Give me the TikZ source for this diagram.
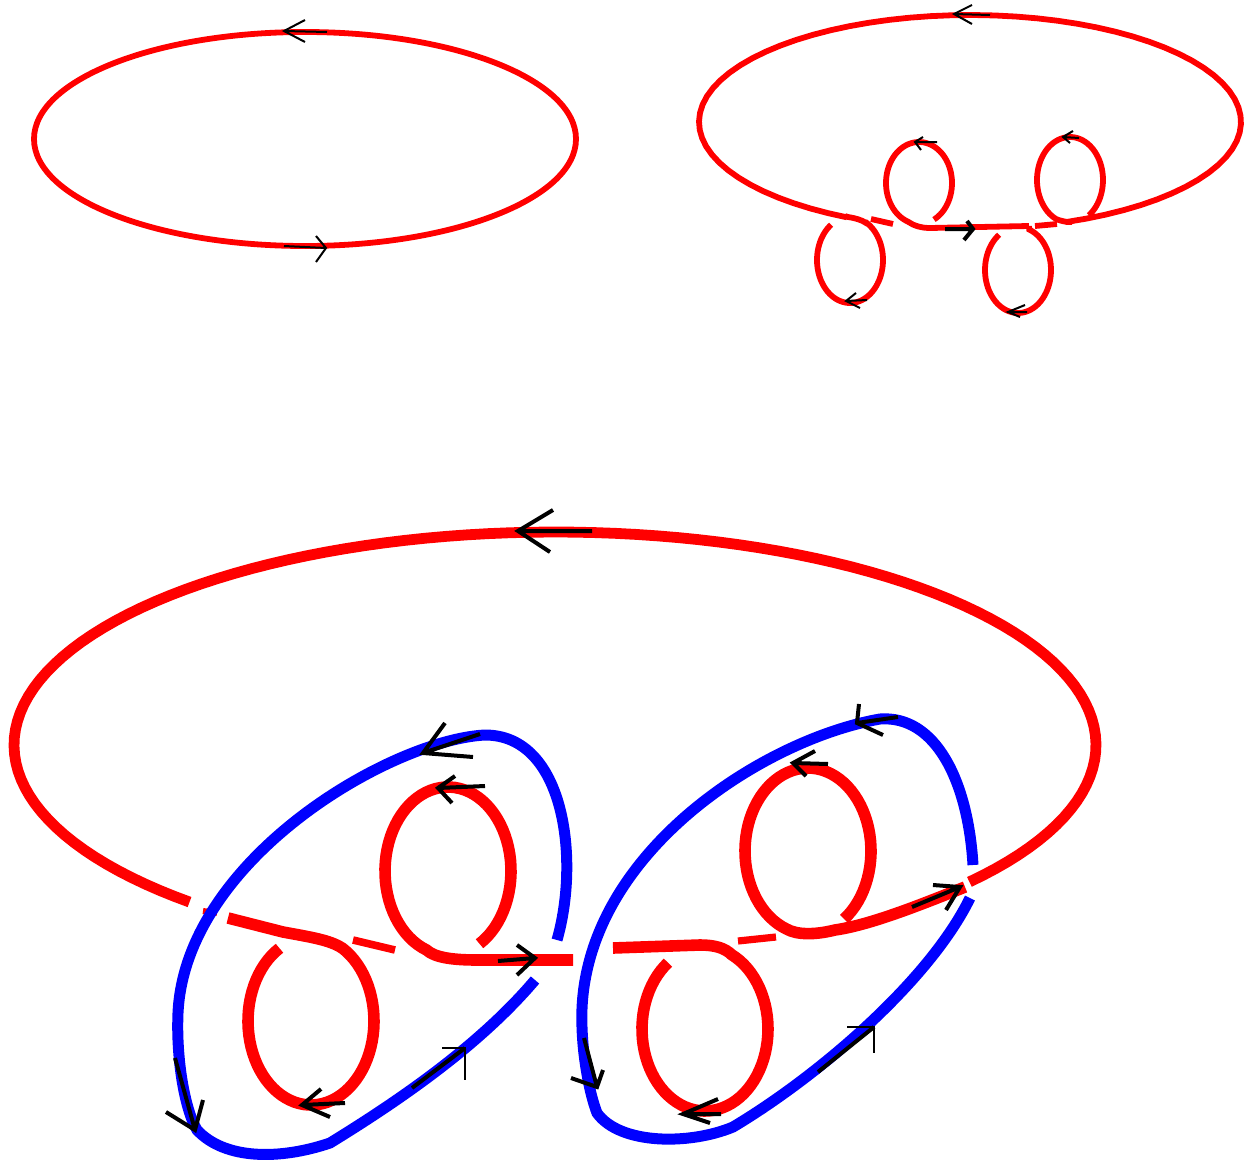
\documentclass[tikz,border=0pt]{standalone}
\definecolor{knotred}{RGB}{255,0,0}
\definecolor{knotblue}{RGB}{0,0,255}
\tikzset{
  redthin/.style={draw=knotred,line width=2.9pt},
  redthick/.style={draw=knotred,line width=5.8pt},
  bluethick/.style={draw=knotblue,line width=5.5pt},
  arrowthin/.style={draw=black,line width=1pt},
  arrowthick/.style={draw=black,line width=2pt}
}
\newcommand{\arw}[5]{\draw[#1] (#2) -- (#3) (#4) -- (#3) -- (#5);}
\newcommand{\elarc}[6]{plot[domain=#5:#6,samples=70] ({#1+#3*cos(\x)},{#2+#4*sin(\x)})}
\newcommand{\elarcto}[6]{-- plot[domain=#5:#6,samples=70] ({#1+#3*cos(\x)},{#2+#4*sin(\x)})}
\begin{document}
\begin{tikzpicture}[x=0.5pt,y=-0.5pt]
\useasboundingbox (0,0) rectangle (1244,1162);
% top left
\draw[redthin] (305,139) ellipse [x radius=271,y radius=107];
\arw{arrowthin}{327,32}{284,31}{305,20}{305,42}
\arw{arrowthin}{284,246}{326,248}{316,236}{316,262}
% top right
\draw[redthin] \elarc{970}{122}{271}{107}{117}{429};
\draw[redthin] (845,216) -- (848,217) .. controls (855,218) and (862,220) .. (866,223) \elarcto{850}{260}{33}{43}{-60}{235};
\draw[redthin] (871,219) -- (893,224);
\draw[redthin] \elarc{919}{183}{33}{41}{63}{-250} .. controls (914,226) and (922,228) .. (930,228) -- (1029,226);
\draw[redthin] (1029,226) \elarcto{1018}{270}{33}{43}{-70}{235};
\draw[redthin] (1035,226) -- (1057,224);
\draw[redthin] \elarc{1070}{180}{33}{43}{55}{-245} .. controls (1058,220) and (1062,221) .. (1067,222) -- (1072,222);
\arw{arrowthin}{990,15}{954,14}{972,5}{972,24}
\arw{arrowthin}{937,142}{915,142}{923,137}{921,150}
\arw{arrowthin}{1079,138}{1063,137}{1073,131}{1070,143}
\arw{arrowthick}{945,229}{973,229}{967,221}{964,240}
\arw{arrowthin}{867,300}{846,301}{856,293}{860,308}
\arw{arrowthin}{1027,312}{1008,312}{1025,305}{1020,317}
% bottom red
\draw[redthick,line width=5.4pt] plot[domain=132.5:400,samples=120] ({555+541*cos(\x)},{745+213*sin(\x)});
\draw[redthick] (228,918) -- (283,932) .. controls (310,937) and (330,940) .. (342,948) \elarcto{311}{1021}{63}{84}{-60}{240};
\draw[redthick,line width=3.8pt] (353,940) -- (395,950);
\draw[redthick] \elarc{448}{871}{63}{84}{60}{-250} .. controls (435,958) and (455,960) .. (477,960) -- (573,960);
\draw[redthick] (613,948) -- (700,945) .. controls (715,945) and (725,948) .. (732,955) \elarcto{705}{1029}{63}{82}{-65}{234};
\draw[redthick,line width=3.6pt] (738,941) -- (776,937);
\draw[redthick] \elarc{808}{851}{63}{83}{55}{-250} .. controls (797,935) and (815,935) .. (835,930) .. controls (870,925) and (920,905) .. (965,887);
\draw[redthick,line width=3pt] (203,911) -- (217,913);
% blue
\draw[bluethick] (557,940) .. controls (580,860) and (565,735) .. (485,735)
  .. controls (390,740) and (185,860) .. (178,1013)
  .. controls (176,1060) and (185,1110) .. (197,1130)
  .. controls (225,1160) and (280,1160) .. (330,1143)
  .. controls (400,1100) and (480,1045) .. (535,980);
\draw[bluethick] (973,865) .. controls (968,780) and (935,715) .. (880,719)
  .. controls (760,740) and (575,860) .. (582,1027)
  .. controls (583,1060) and (590,1095) .. (597,1113)
  .. controls (620,1145) and (690,1145) .. (733,1127)
  .. controls (820,1075) and (930,980) .. (970,898);
% bottom arrows
\arw{arrowthick}{592,531}{518,531}{553,510}{550,552}
\arw{arrowthick}{480,734}{423,753}{445,723}{473,757}
\arw{arrowthick}{485,786}{438,788}{455,776}{452,803}
\arw{arrowthick}{498,961}{535,958}{517,945}{517,975}
\draw[arrowthick] (412,1088) -- (465,1048);
\draw[arrowthin] (442,1048) -- (465,1048) -- (465,1080);
\arw{arrowthick}{175,1058}{195,1130}{166,1112}{203,1100}
\arw{arrowthick}{345,1103}{302,1105}{321,1089}{330,1117}
\arw{arrowthick}{898,717}{857,723}{859,704}{883,735}
\arw{arrowthick}{828,764}{793,763}{815,751}{806,776}
\arw{arrowthick}{912,907}{960,887}{933,885}{946,910}
\draw[arrowthick] (818,1072) -- (874,1027);
\draw[arrowthin] (847,1027) -- (874,1027) -- (874,1053);
\arw{arrowthick}{584,1038}{597,1087}{571,1078}{603,1070}
\arw{arrowthick}{721,1114}{683,1114}{718,1099}{710,1123}
\end{tikzpicture}
\end{document}
